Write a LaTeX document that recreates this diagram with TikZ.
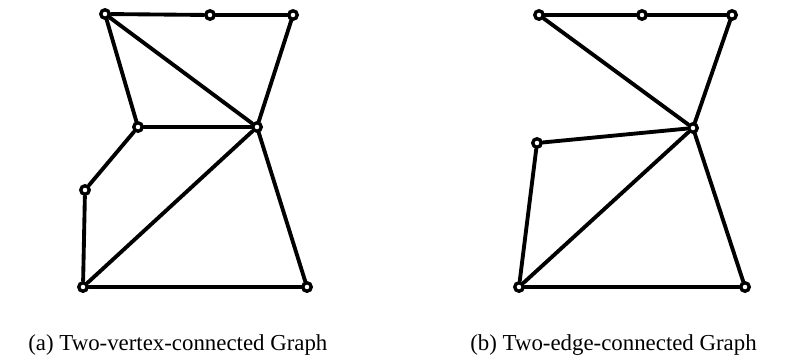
\documentclass[tikz,border=0pt]{standalone}
\usepackage{fontspec}
\setmainfont{Liberation Serif}
\usepackage{tikz}

\begin{document}
\begin{tikzpicture}[x=0.02cm,y=-0.02cm,
    vtx/.style={circle,draw,fill=white,line width=1.9pt,inner sep=0pt,minimum size=0.17cm},
    edge/.style={line width=2.2pt,line cap=round}]
    \useasboundingbox (0,0) rectangle (801,359);
    % (a) two-vertex-connected
    \node[vtx] (a1) at (105,14) {};
    \node[vtx] (a2) at (210,15) {};
    \node[vtx] (a3) at (293,15) {};
    \node[vtx] (a4) at (138,127) {};
    \node[vtx] (a5) at (257,127) {};
    \node[vtx] (a6) at (85,190) {};
    \node[vtx] (a7) at (83,287) {};
    \node[vtx] (a8) at (307,287) {};
    \draw[edge] (a1) -- (a2);
    \draw[edge] (a2) -- (a3);
    \draw[edge] (a1) -- (a5);
    \draw[edge] (a1) -- (a4);
    \draw[edge] (a3) -- (a5);
    \draw[edge] (a4) -- (a5);
    \draw[edge] (a4) -- (a6);
    \draw[edge] (a6) -- (a7);
    \draw[edge] (a7) -- (a5);
    \draw[edge] (a5) -- (a8);
    \draw[edge] (a7) -- (a8);
    % (b) two-edge-connected
    \node[vtx] (b1) at (539,15) {};
    \node[vtx] (b2) at (642,15) {};
    \node[vtx] (b3) at (732,15) {};
    \node[vtx] (b4) at (537,143) {};
    \node[vtx] (b5) at (693,128) {};
    \node[vtx] (b6) at (519,287) {};
    \node[vtx] (b7) at (745,287) {};
    \draw[edge] (b1) -- (b2);
    \draw[edge] (b2) -- (b3);
    \draw[edge] (b1) -- (b5);
    \draw[edge] (b3) -- (b5);
    \draw[edge] (b4) -- (b5);
    \draw[edge] (b4) -- (b6);
    \draw[edge] (b6) -- (b5);
    \draw[edge] (b5) -- (b7);
    \draw[edge] (b6) -- (b7);
    % captions
    \node[anchor=base west,inner sep=0pt,font=\fontsize{13}{15}\selectfont] (capa) at (28,350) {(a) Two-vertex-connected Graph};
    \node[anchor=base west,inner sep=0pt,font=\fontsize{13}{15}\selectfont] (capb) at (470,350) {(b) Two-edge-connected Graph};
\end{tikzpicture}
\end{document}
